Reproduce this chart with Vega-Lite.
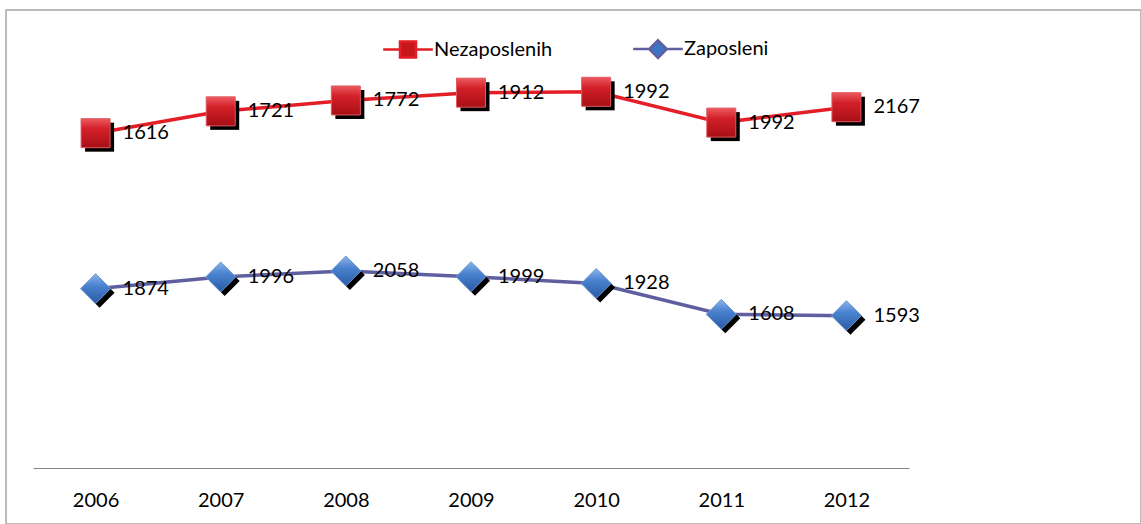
{
  "$schema": "https://vega.github.io/schema/vega-lite/v6.json",
  "autosize": "none",
  "width": 1135,
  "height": 514,
  "padding": {"left": 6, "top": 10, "right": 0, "bottom": 0},
  "background": "white",
  "config": {
    "view": {"stroke": "#a6a6a6", "strokeWidth": 1.5},
    "font": "Lato",
    "text": {"font": "Lato"}
  },
  "data": {
    "values": [
      {"year": "2006", "series": "Nezaposlenih", "value": 1616},
      {"year": "2007", "series": "Nezaposlenih", "value": 1721},
      {"year": "2008", "series": "Nezaposlenih", "value": 1772},
      {"year": "2009", "series": "Nezaposlenih", "value": 1912},
      {"year": "2010", "series": "Nezaposlenih", "value": 1992},
      {"year": "2011", "series": "Nezaposlenih", "value": 1992},
      {"year": "2012", "series": "Nezaposlenih", "value": 2167},
      {"year": "2006", "series": "Zaposleni", "value": 1874},
      {"year": "2007", "series": "Zaposleni", "value": 1996},
      {"year": "2008", "series": "Zaposleni", "value": 2058},
      {"year": "2009", "series": "Zaposleni", "value": 1999},
      {"year": "2010", "series": "Zaposleni", "value": 1928},
      {"year": "2011", "series": "Zaposleni", "value": 1608},
      {"year": "2012", "series": "Zaposleni", "value": 1593}
    ]
  },
  "transform": [
    {"stack": "value", "groupby": ["year"], "sort": [{"field": "series", "order": "descending"}], "as": ["v0", "v1"]}
  ],
  "encoding": {
    "x": {
      "field": "year", "type": "ordinal",
      "scale": {"type": "point", "padding": 0.5, "range": [27, 903]},
      "axis": {
        "title": null, "offset": -56, "labelAngle": 0, "ticks": false,
        "domainColor": "#868686", "domainWidth": 1.2,
        "labelFont": "Lato", "labelFontSize": 20, "labelColor": "#000000",
        "labelPadding": 22
      }
    },
    "y": {
      "field": "v1", "type": "quantitative",
      "scale": {"domain": [0, 4500], "range": [459, 26], "zero": true, "nice": false},
      "axis": null
    }
  },
  "layer": [
    {
      "mark": {"type": "line", "strokeWidth": 3.5},
      "encoding": {
        "color": {
          "field": "series", "type": "nominal",
          "scale": {"domain": ["Nezaposlenih", "Zaposleni"], "range": ["#e31e27", "#5f5f9f"]},
          "legend": {
            "title": null, "orient": "none", "direction": "horizontal",
            "legendX": 392, "legendY": 29, "padding": 0,
            "symbolSize": 256, "symbolStrokeWidth": 3,
            "labelFont": "Lato", "labelFontSize": 20, "labelColor": "#000000",
            "labelOffset": 16, "columnPadding": 75,
            "encode": {
              "symbols": {
                "update": {
                  "shape": {"signal": "datum.value === 'Nezaposlenih' ? 'M-3.1,0H-1M1,0H3.1M-1,-1H1V1H-1Z' : 'M-3.1,0H-1.1M1.1,0H3.1M0,-1.1L1.1,0L0,1.1L-1.1,0Z'"},
                  "fill": {"signal": "datum.value === 'Nezaposlenih' ? '#c8161d' : '#3e74c4'"},
                  "stroke": {"signal": "datum.value === 'Nezaposlenih' ? '#e31e27' : '#5f5f9f'"},
                  "size": {"value": 256},
                  "strokeWidth": {"value": 2.5},
                  "strokeOpacity": {"value": 1},
                  "fillOpacity": {"value": 1},
                  "opacity": {"value": 1}
                }
              }
            }
          }
        }
      }
    },
    {
      "transform": [{"filter": "datum.series === 'Nezaposlenih'"}],
      "mark": {"type": "point", "shape": "square", "filled": true, "opacity": 1, "color": "#000000", "size": 841, "xOffset": 4, "yOffset": 4}
    },
    {
      "transform": [{"filter": "datum.series === 'Zaposleni'"}],
      "mark": {"type": "point", "shape": "diamond", "filled": true, "opacity": 1, "color": "#000000", "size": 900, "xOffset": 4, "yOffset": 4}
    },
    {
      "transform": [{"filter": "datum.series === 'Nezaposlenih'"}],
      "mark": {
        "type": "point", "shape": "square", "filled": true, "opacity": 1, "size": 841,
        "stroke": "#e05a60", "strokeWidth": 1,
        "fill": {"x1": 0, "y1": 0, "x2": 0, "y2": 1, "gradient": "linear", "stops": [
          {"offset": 0, "color": "#ec5a60"}, {"offset": 0.35, "color": "#d32029"}, {"offset": 1, "color": "#a80f16"}
        ]}
      }
    },
    {
      "transform": [{"filter": "datum.series === 'Zaposleni'"}],
      "mark": {
        "type": "point", "shape": "diamond", "filled": true, "opacity": 1, "size": 900,
        "stroke": "#6f9ad6", "strokeWidth": 1,
        "fill": {"x1": 0, "y1": 0, "x2": 0, "y2": 1, "gradient": "linear", "stops": [
          {"offset": 0, "color": "#8ab4ea"}, {"offset": 0.4, "color": "#4a82cf"}, {"offset": 1, "color": "#2a5aa4"}
        ]}
      }
    },
    {
      "mark": {"type": "text", "align": "left", "baseline": "middle", "dx": 27, "font": "Lato", "fontSize": 20, "color": "#000000"},
      "encoding": {"text": {"field": "value", "type": "quantitative", "format": "d"}}
    }
  ]
}
